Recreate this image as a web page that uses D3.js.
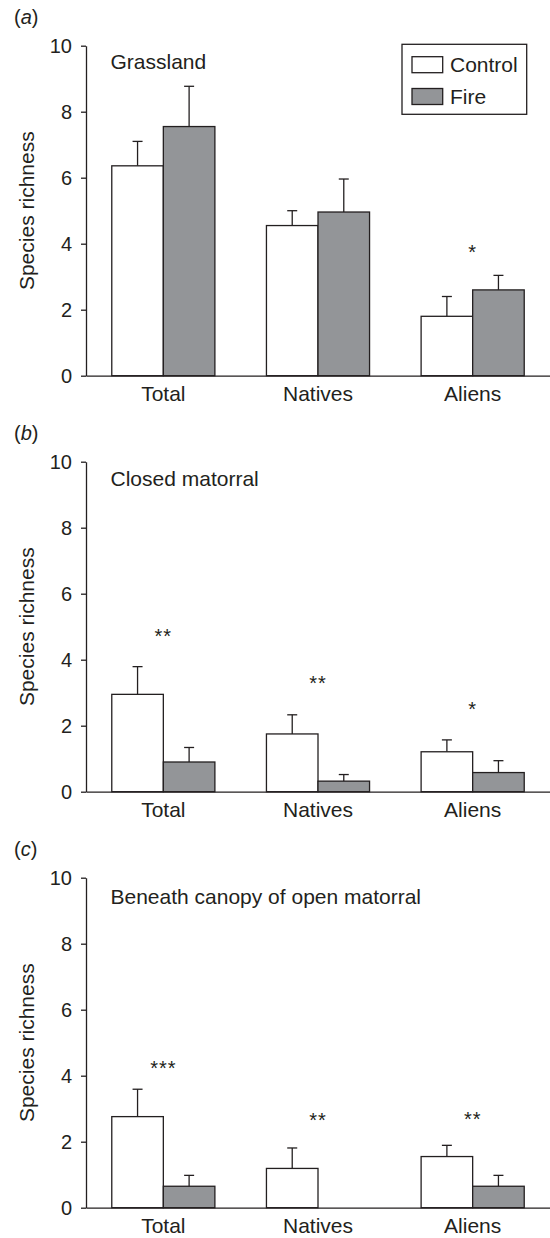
<!DOCTYPE html>
<html lang="en">
    <head>
        <meta charset="utf-8" />
        <title>Species richness</title>
        <script type="text/javascript" src="https://cdn.jsdelivr.net/npm/d3@7"></script>
        <style type="text/css">
            body { margin: 0; background: #fff; }
            svg text { font-family: "Liberation Sans", Arial, sans-serif; fill: #231f20; }
        </style>
    </head>
    <body>
        <script type="text/javascript">
            var categories = ["Total", "Natives", "Aliens"];
            var groups = ["Control", "Fire"];
            var panelLabels = ["a", "b", "c"];
            var panelTitles = ["Grassland", "Closed matorral", "Beneath canopy of open matorral"];
            var yTicks = [0, 2, 4, 6, 8, 10];

            // means and upper ends of the error bars, one row per panel
            var controlMean = [[6.36, 4.55, 1.8], [2.95, 1.75, 1.21], [2.76, 1.19, 1.55]];
            var controlErr = [[7.1, 5.0, 2.4], [3.79, 2.33, 1.57], [3.59, 1.81, 1.89]];
            var fireMean = [[7.55, 4.96, 2.6], [0.9, 0.32, 0.58], [0.65, 0, 0.65]];
            var fireErr = [[8.77, 5.96, 3.04], [1.34, 0.52, 0.94], [0.98, 0, 0.98]];

            // significance stars and the height they sit at
            var sigStars = [["", "", "*"], ["**", "**", "*"], ["***", "**", "**"]];
            var sigHeight = [[0, 0, 3.87], [4.84, 3.42, 2.64], [4.36, 2.79, 2.82]];

            var w = 550;
            var h = 1238;
            var left = 86;
            var firstTop = 45.7;
            var panelStep = 416;
            var plotH = 330;
            var ink = "#231f20";
            var grey = "#939598";
            var titleDy = [23.3, 24.3, 26.7];

            var svg = d3.select("body")
                .append("svg")
                .attr("width", w)
                .attr("height", h);

            var xScale = d3.scaleBand()
                .domain(categories)
                .range([left, w]);

            var subScale = d3.scaleBand()
                .domain(groups)
                .range([0, xScale.bandwidth()])
                .paddingOuter(0.5);

            panelLabels.forEach(function(lab, p) {
                var top = firstTop + p * panelStep;
                var yScale = d3.scaleLinear()
                    .domain([0, 10])
                    .range([top + plotH, top]);

                var g = svg.append("g");

                // panel letter
                var pl = g.append("text")
                    .attr("x", 14)
                    .attr("y", top - 21.5)
                    .attr("font-size", "20px");
                pl.append("tspan").text("(");
                pl.append("tspan").attr("font-style", "italic").text(lab);
                pl.append("tspan").text(")");

                g.append("text")
                    .attr("x", 110.5)
                    .attr("y", top + titleDy[p])
                    .attr("font-size", "21px")
                    .text(panelTitles[p]);

                var rows = categories.map(function(c, i) {
                    return [
                        { cat: c, grp: "Control", v: controlMean[p][i], e: controlErr[p][i] },
                        { cat: c, grp: "Fire", v: fireMean[p][i], e: fireErr[p][i] }
                    ];
                });
                var flat = [].concat.apply([], rows).filter(function(d) {
                    return d.v > 0;
                });

                // error bars first, bars on top
                var eb = g.selectAll("g.err")
                    .data(flat)
                    .enter()
                    .append("g")
                    .attr("class", "err")
                    .attr("stroke", ink)
                    .attr("stroke-width", 1.3);
                eb.append("line")
                    .attr("x1", function(d) { return xScale(d.cat) + subScale(d.grp) + subScale.bandwidth() / 2; })
                    .attr("x2", function(d) { return xScale(d.cat) + subScale(d.grp) + subScale.bandwidth() / 2; })
                    .attr("y1", function(d) { return yScale(d.v); })
                    .attr("y2", function(d) { return yScale(d.e); });
                eb.append("line")
                    .attr("x1", function(d) { return xScale(d.cat) + subScale(d.grp) + subScale.bandwidth() / 2 - 5; })
                    .attr("x2", function(d) { return xScale(d.cat) + subScale(d.grp) + subScale.bandwidth() / 2 + 5; })
                    .attr("y1", function(d) { return yScale(d.e); })
                    .attr("y2", function(d) { return yScale(d.e); });

                g.selectAll("rect.bar")
                    .data(flat)
                    .enter()
                    .append("rect")
                    .attr("class", "bar")
                    .attr("x", function(d) { return xScale(d.cat) + subScale(d.grp); })
                    .attr("y", function(d) { return yScale(d.v); })
                    .attr("width", subScale.bandwidth())
                    .attr("height", function(d) { return yScale(0) - yScale(d.v); })
                    .attr("fill", function(d) { return d.grp == "Fire" ? grey : "#fff"; })
                    .attr("stroke", ink)
                    .attr("stroke-width", 1.3);

                // stars
                g.selectAll("text.sig")
                    .data(categories)
                    .enter()
                    .append("text")
                    .attr("class", "sig")
                    .attr("x", function(c) { return xScale(c) + xScale.bandwidth() / 2; })
                    .attr("y", function(c, i) { return yScale(sigHeight[p][i]) + 11; })
                    .attr("text-anchor", "middle")
                    .attr("font-size", "20px")
                    .attr("letter-spacing", "1px")
                    .text(function(c, i) { return sigStars[p][i]; });

                // axes
                var yAxis = d3.axisLeft(yScale)
                    .tickValues(yTicks)
                    .tickSize(5)
                    .tickSizeOuter(0)
                    .tickPadding(9);
                var ya = g.append("g")
                    .attr("transform", "translate(" + left + ",0)")
                    .call(yAxis);
                ya.selectAll("text").attr("font-size", "20px").attr("font-family", null).attr("fill", ink);

                var xAxis = d3.axisBottom(xScale).tickSize(0).tickSizeOuter(0);
                var xa = g.append("g")
                    .attr("transform", "translate(0," + yScale(0) + ")")
                    .call(xAxis);
                xa.selectAll("text").attr("font-size", "21px").attr("font-family", null).attr("fill", ink).attr("y", 10.5);

                svg.selectAll(".domain, .tick line")
                    .attr("stroke", ink)
                    .attr("stroke-width", 1.3);

                g.append("text")
                    .attr("transform", "translate(33.5," + (top + plotH / 2) + ") rotate(-90)")
                    .attr("text-anchor", "middle")
                    .attr("font-size", "21px")
                    .text("Species richness");
            });

            // legend in panel a
            var lg = svg.append("g");
            lg.append("rect")
                .attr("x", 402).attr("y", 44.3)
                .attr("width", 124.7).attr("height", 70)
                .attr("fill", "#fff").attr("stroke", ink).attr("stroke-width", 1.3);
            lg.selectAll("rect.sw")
                .data(groups)
                .enter()
                .append("rect")
                .attr("class", "sw")
                .attr("x", 412)
                .attr("y", function(d, i) { return 56.7 + i * 31.8; })
                .attr("width", 30.7)
                .attr("height", 16)
                .attr("fill", function(d) { return d == "Fire" ? grey : "#fff"; })
                .attr("stroke", ink)
                .attr("stroke-width", 1.3);
            lg.selectAll("text")
                .data(groups)
                .enter()
                .append("text")
                .attr("x", 450)
                .attr("y", function(d, i) { return 72.3 + i * 31.8; })
                .attr("font-size", "21px")
                .text(function(d) { return d; });
        </script>
    </body>
</html>
